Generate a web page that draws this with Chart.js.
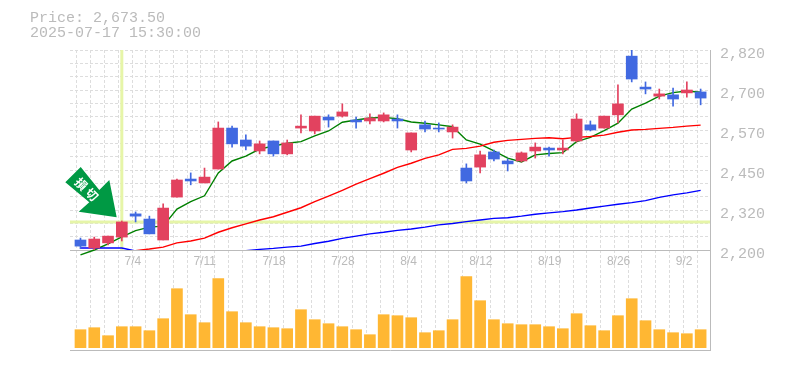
<!DOCTYPE html>
<html>
<head>
<meta charset="utf-8">
<style>
    body { margin: 0; background: #fff; }
    #wrap { position: relative; width: 785px; height: 370px; overflow: hidden; }
    #info { position: absolute; left: 30px; top: 11px; font: 15px/15px "Liberation Mono", monospace; color: #bbb; white-space: pre; }
    #arrow { position: absolute; left: 0; top: 0; }
</style>
<script src="https://cdn.jsdelivr.net/npm/chart.js@4"></script>
</head>
<body>
<div id="wrap">
    <canvas id="chart" width="785" height="370"></canvas>
    <div id="info">Price: 2,673.50
2025-07-17 15:30:00</div>
    <svg id="arrow" width="785" height="370">
        <polygon points="80.7,167 65.3,182.3 89.3,202.3 78.7,211.7 116.7,217.3 109.3,180 99.3,190" fill="#009944"/>
        <text transform="translate(88.3 189.7) rotate(45)" text-anchor="middle" dominant-baseline="central"
              font-family="Noto Sans CJK JP" font-size="12" font-weight="bold" letter-spacing="3" fill="#fff">損切</text>
    </svg>
</div>
<script>
const dates = ['6/30', '7/1', '7/2', '7/3', '7/4', '7/7', '7/8', '7/9', '7/10', '7/11', '7/14', '7/15', '7/16', '7/17', '7/18',
    '7/22', '7/23', '7/24', '7/25', '7/28', '7/29', '7/30', '7/31', '8/1', '8/4', '8/5', '8/6', '8/7', '8/8', '8/12',
    '8/13', '8/14', '8/15', '8/18', '8/19', '8/20', '8/21', '8/22', '8/25', '8/26', '8/27', '8/28', '8/29', '9/1', '9/2', '9/3'];
const opens = [2231, 2206, 2222, 2240, 2312, 2296, 2231, 2364, 2420, 2408, 2451, 2578, 2541, 2507, 2538, 2498,
    2578, 2569, 2612, 2615, 2603, 2600, 2600, 2606, 2510, 2588, 2578, 2566, 2454, 2457, 2504,
    2476, 2476, 2507, 2516, 2510, 2538, 2588, 2578, 2619, 2801, 2705, 2677, 2681, 2687, 2690];
const closes = [2212, 2234, 2243, 2287, 2305, 2250, 2330, 2417, 2414, 2426, 2578, 2529, 2522, 2529, 2498, 2532,
    2584, 2615, 2603, 2628, 2597, 2609, 2619, 2600, 2563, 2575, 2575, 2581, 2414, 2495, 2482,
    2467, 2501, 2519, 2510, 2516, 2606, 2572, 2615, 2653, 2730, 2699, 2684, 2668, 2696, 2671];
const highs = [2237, 2240, 2243, 2290, 2318, 2305, 2343, 2420, 2439, 2454, 2597, 2584, 2557, 2538, 2538, 2541,
    2619, 2615, 2619, 2653, 2612, 2622, 2625, 2619, 2563, 2600, 2594, 2588, 2467, 2507, 2510,
    2482, 2504, 2532, 2519, 2541, 2622, 2600, 2615, 2712, 2820, 2721, 2699, 2702, 2721, 2699];
const lows = [2204, 2200, 2216, 2228, 2287, 2250, 2231, 2364, 2402, 2408, 2451, 2519, 2510, 2498, 2491, 2495,
    2563, 2560, 2581, 2612, 2578, 2591, 2597, 2578, 2504, 2566, 2566, 2547, 2408, 2439, 2476,
    2445, 2473, 2485, 2491, 2498, 2535, 2569, 2578, 2594, 2721, 2684, 2668, 2646, 2674, 2650];
const maShort = [2185, 2200, 2219, 2241, 2260, 2271, 2274, 2327, 2350, 2368, 2439, 2476, 2491, 2513, 2522, 2531,
    2536, 2554, 2569, 2596, 2603, 2609, 2611, 2607, 2597, 2593, 2588, 2582, 2541, 2528, 2507,
    2485, 2473, 2495, 2499, 2502, 2536, 2549, 2570, 2593, 2637, 2655, 2677, 2688, 2693, 2689];
const maMid = [null, null, null, null, 2198, 2203, 2209, 2222, 2228, 2237, 2255, 2269, 2281, 2293,
    2303, 2317, 2331, 2350, 2367, 2385, 2404, 2421, 2438, 2456,
    2469, 2484, 2495, 2512, 2515, 2522, 2534, 2540, 2543, 2546,
    2548, 2545, 2549, 2552, 2556, 2565, 2572, 2574, 2577, 2580, 2584, 2587];
const maLong = [2206, 2206, 2206, 2206, 2197, null, null, null, null, null, null, null, 2198,
    2202, 2205, 2209, 2212, 2220, 2227, 2236, 2243, 2250, 2255,
    2261, 2265, 2271, 2278, 2282, 2288, 2293, 2298, 2300, 2305,
    2311, 2315, 2319, 2324, 2330, 2336, 2342, 2347, 2353, 2363, 2371, 2377, 2385];
const volumes = [18, 20, 12, 21, 21, 17, 29, 59, 33, 25, 69, 36, 25, 21, 20, 19, 38, 28, 24, 21, 18, 13, 33,
    32, 30, 15, 17, 28, 71, 47, 28, 24, 23, 23, 21, 19, 34, 22, 17, 32, 49, 27, 18, 15, 14, 18];
const priceTicks = [2200, 2324, 2448, 2572, 2696, 2820];
const priceLabels = ['2,200', '2,320', '2,450', '2,570', '2,700', '2,820'];
const dateTickIndexes = [4, 9, 14, 19, 24, 29, 34, 39, 44];
const crossIndex = 3;

const RED = '#e2425f';
const BLUE = '#4169e1';
const GRID = '#dddddd';
const AXIS = '#bbbbbb';
const CROSS = '#e6f5a8';

const xMin = -0.76;
const xMax = 45.68;

const toPoints = values => values.map((v, i) => ({ x: i, y: v }));
const candleColors = closes.map((c, i) => (c >= opens[i] ? RED : BLUE));

function maLine(label, values, color, extra) {
    return Object.assign({
        type: 'line', label, data: toPoints(values), borderColor: color, borderWidth: 1.4,
        pointRadius: 0, tension: 0, spanGaps: false, order: 3, yAxisID: 'y'
    }, extra);
}

new Chart(document.getElementById('chart'), {
    type: 'bar',
    data: {
        datasets: [
            {
                label: 'Volume', data: toPoints(volumes), yAxisID: 'yVol', backgroundColor: '#ffb733',
                barThickness: 11, grouped: false, order: 5
            },
            {
                type: 'line', label: 'crossH', yAxisID: 'y', borderColor: CROSS, borderWidth: 3, pointRadius: 0, order: 4,
                data: [{ x: xMin, y: closes[crossIndex] }, { x: xMax, y: closes[crossIndex] }]
            },
            {
                type: 'line', label: 'crossV', yAxisID: 'y', borderColor: CROSS, borderWidth: 3, pointRadius: 0, order: 4,
                data: [{ x: crossIndex, y: priceTicks[0] }, { x: crossIndex, y: priceTicks[5] }]
            },
            maLine('MA long', maLong, '#0000ff'),
            maLine('MA mid', maMid, '#ff0000'),
            maLine('MA short', maShort, '#008000', { clip: false }),
            {
                label: 'Wick', yAxisID: 'y', data: highs.map((h, i) => ({ x: i, y: [lows[i], h] })),
                backgroundColor: candleColors, barThickness: 1, grouped: false, order: 2
            },
            {
                label: 'Body', yAxisID: 'y', data: opens.map((o, i) => ({ x: i, y: [o, closes[i]] })),
                backgroundColor: candleColors, barThickness: 11, grouped: false, order: 1
            }
        ]
    },
    options: {
        responsive: false,
        animation: false,
        layout: { padding: { left: 70, top: 50, right: 0, bottom: 20 } },
        plugins: { legend: { display: false }, tooltip: { enabled: false } },
        scales: {
            x: {
                type: 'linear', min: xMin, max: xMax, offset: false,
                afterBuildTicks: scale => {
                    const ticks = [];
                    for (let k = 0; k <= 46; k++) ticks.push({ value: xMin + k });
                    scale.ticks = ticks;
                },
                grid: { color: GRID, drawTicks: false },
                border: { color: AXIS, dash: [3, 2], display: false },
                ticks: { display: false }
            },
            xDates: {
                type: 'linear', min: xMin, max: xMax, position: { y: 2200 }, offset: false,
                afterBuildTicks: scale => { scale.ticks = dateTickIndexes.map(i => ({ value: i })); },
                grid: { display: false, drawTicks: false },
                border: { color: AXIS },
                ticks: {
                    color: AXIS, padding: 4, autoSkip: false, maxRotation: 0, align: 'start', labelOffset: -11,
                    font: { family: 'Liberation Sans', size: 12 },
                    callback: value => dates[value]
                }
            },
            xBottom: {
                type: 'linear', min: xMin, max: xMax, position: 'bottom', offset: false,
                grid: { display: false, drawTicks: false },
                border: { color: AXIS },
                ticks: { display: false }
            },
            y: {
                type: 'linear', position: 'right', min: 2200, max: 2820, stack: 'main', stackWeight: 2,
                afterBuildTicks: scale => {
                    const ticks = [];
                    for (let k = 0; k <= 15; k++) ticks.push({ value: 2200 + k * 620 / 15 });
                    scale.ticks = ticks;
                },
                afterFit: scale => { scale.width = 75; },
                grid: { color: GRID, drawTicks: false },
                border: { color: AXIS, dash: [3, 2] },
                ticks: {
                    color: AXIS, padding: 10, labelOffset: 4, autoSkip: false,
                    font: { family: 'Liberation Mono', size: 15 },
                    callback: (value, index) => (index % 3 === 0 ? priceLabels[index / 3] : '')
                }
            },
            yVol: {
                type: 'linear', position: 'right', min: -2.3, max: 97.7, stack: 'main', stackWeight: 1,
                afterFit: scale => { scale.width = 75; },
                grid: { display: false, drawTicks: false },
                border: { color: AXIS },
                ticks: { display: false }
            }
        }
    }
});
</script>
</body>
</html>
